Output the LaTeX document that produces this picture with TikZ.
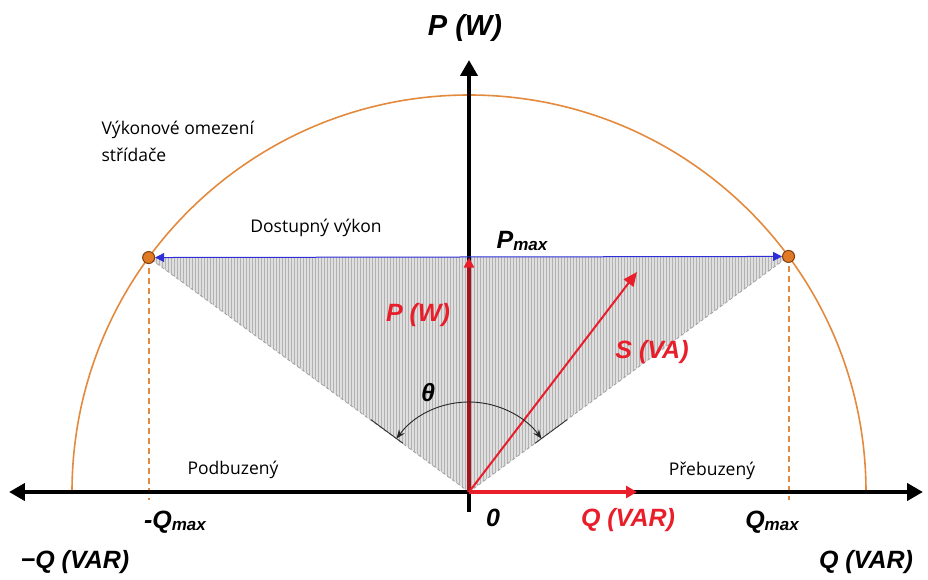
\documentclass[tikz,border=0pt]{standalone}
\usepackage{fontspec}
\setmainfont{Liberation Sans}
\newfontfamily\plainfont{Open Sans}
\usetikzlibrary{arrows.meta,patterns,positioning}
\definecolor{limitorange}{HTML}{E38A3E}
\definecolor{dotorange}{HTML}{E07A25}
\definecolor{dotbrown}{HTML}{7A3E10}
\definecolor{vecred}{HTML}{E81E2A}
\definecolor{pdark}{HTML}{A3141C}
\definecolor{availblue}{HTML}{2E2ED8}
\newcommand{\sub}[1]{\raisebox{-2pt}{\fontsize{17}{17}\selectfont #1}}

\begin{document}
\begin{tikzpicture}[
  x=1pt, y=1pt,
  font=\fontsize{25}{28}\selectfont\bfseries\itshape,
  axis/.style={line width=4pt, -{Triangle[length=16pt,width=17pt]}},
  note/.style={font=\fontsize{17.5}{27}\selectfont\plainfont, align=left},
  qty/.style={text=vecred},
  edge/.style={draw=gray!75, dashed, line width=0.8pt},
  droop/.style={limitorange, line width=2pt, dash pattern=on 6pt off 4pt},
  limitdot/.style={circle, fill=dotorange, draw=dotbrown, line width=1pt,
                   inner sep=0pt, minimum size=12pt}
]
\useasboundingbox (-469,-87) rectangle (459,492);

\coordinate (O) at (0,0);
\coordinate (xl) at (-460,0);
\coordinate (xr) at (454,0);
\coordinate (yb) at (0,-20);
\coordinate (yt) at (0,432);
\coordinate (A) at (143.8:397);
\coordinate (B) at (36.4:397);
\coordinate (M) at (O |- A);
\coordinate (Aq) at (A |- 0,-8);
\coordinate (Bq) at (B |- 0,-8);
\coordinate (S) at (168,220);
\coordinate (Q) at (168,0);
\coordinate (th1) at (143.6:90);

% available area
\fill[gray!25] (O) -- (A) -- (B) -- cycle;
\fill[pattern=vertical lines, pattern color=gray!60] (O) -- (A) -- (B) -- cycle;
\draw[edge] (O) -- (A);
\draw[edge] (O) -- (B);
\draw[gray!40!black, line width=0.9pt] (143.6:82) -- (143.6:122);
\draw[gray!40!black, line width=0.9pt] (36.4:82) -- (36.4:122);

% inverter limit
\draw[limitorange, line width=1.6pt] (397,0) arc[start angle=0, end angle=180, radius=397];
\draw[droop] (A) -- (Aq);
\draw[droop] (B) -- (Bq);

% axes
\draw[axis] (O) -- (xr);
\draw[axis] (O) -- (xl);
\draw[axis] (yb) -- (yt);

\node[limitdot] (ldot) at (A) {};
\node[limitdot] (rdot) at (B) {};
\draw[availblue, line width=1pt, {Triangle[length=9pt,width=9pt]}-{Triangle[length=9pt,width=9pt]}] (ldot) -- (rdot);

% vectors
\draw[pdark, line width=4pt, -{Triangle[length=10pt,width=10pt,color=vecred]}] (O) -- (M);
\draw[vecred, line width=2pt, -{Triangle[length=14pt,width=12pt]}] (O) -- (S);
\draw[vecred, line width=4pt, -{Triangle[length=11pt,width=12pt]}] (O) -- (Q);
\draw[gray!30!black, line width=0.9pt, {Stealth[length=9pt,width=7pt]}-{Stealth[length=9pt,width=7pt]}]
  (th1) arc[start angle=143.6, end angle=36.4, radius=90];

% labels
\node (ptop) at (-4,464) {\fontsize{29}{32}\selectfont P (W)};
\node[note, anchor=west] (limit) at (-371,351) {Výkonové omezení\\střídače};
\node[note] (avail) at (-153,264) {Dostupný výkon};
\node (pmax) at (53,251) {P\sub{max}};
\node[qty] (plabel) at (-51,177) {P (W)};
\node[qty] (slabel) at (183,140) {S (VA)};
\node (theta) at (-41,99) {θ};
\node[note] (under) at (-236,22) {Podbuzený};
\node[note] (over) at (243,21) {Přebuzený};
\node (qmin) at (-294,-30) {-Q\sub{max}};
\node (zero) at (24,-26) {0};
\node[qty] (qlabel) at (159,-28) {Q (VAR)};
\node (qmaxr) at (303,-30) {Q\sub{max}};
\node (qneg) at (-394,-70) {−Q (VAR)};
\node (qpos) at (397,-70) {Q (VAR)};
\end{tikzpicture}
\end{document}
